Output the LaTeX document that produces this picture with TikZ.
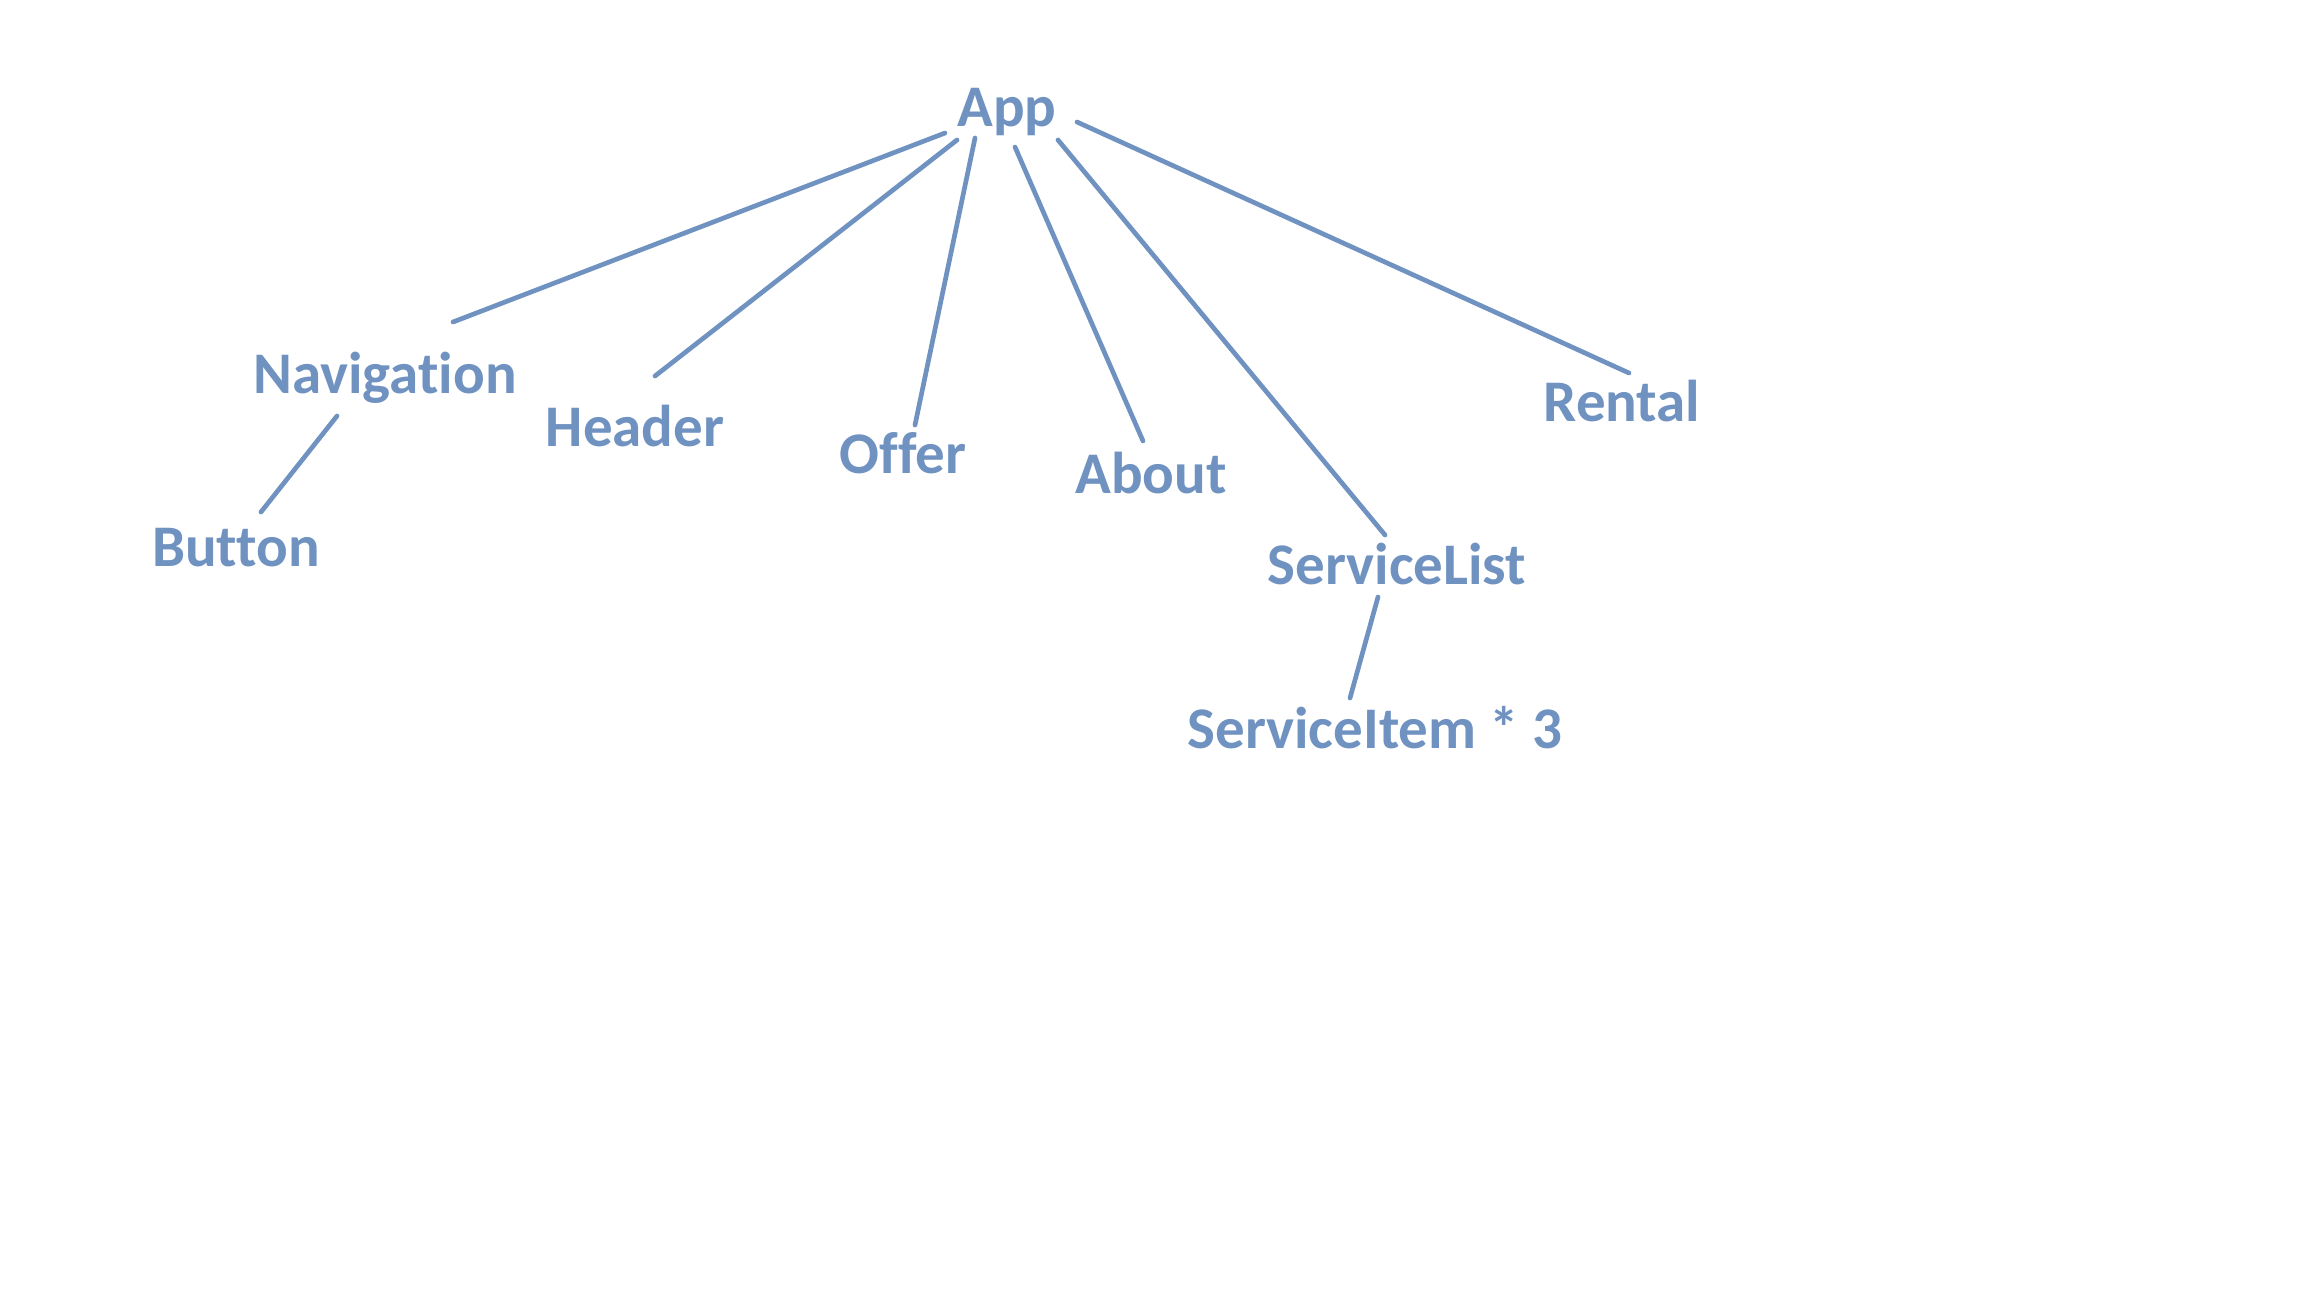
\documentclass[tikz,border=0pt]{standalone}
\usepackage{fontspec}
\setmainfont[Ligatures={NoCommon}]{Carlito}
\definecolor{lbl}{RGB}{111,146,193}
\tikzset{
  lab/.style={anchor=base, inner sep=0pt, text=lbl, font=\fontsize{59}{70}\selectfont\bfseries},
  edge/.style={draw=lbl, line width=4.7pt, line cap=round}
}
\begin{document}
\begin{tikzpicture}[x=1pt,y=-1pt]
\useasboundingbox (0,0) rectangle (2304,1296);
% nodes
\node[lab] (app) at (1007,126) {App};
\node[lab] (nav) at (385,393) {Navigation};
\node[lab] (hdr) at (635,446) {Header};
\node[lab] (off) at (903,473) {Offer};
\node[lab] (abt) at (1151,493) {About};
\node[lab] (sl)  at (1397,584) {ServiceList};
\node[lab] (si)  at (1375,748) {ServiceItem * 3};
\node[lab] (ren) at (1622,421) {Rental};
\node[lab] (btn) at (236,566) {Button};
% connector end points
\coordinate (a-nav) at (945,133);
\coordinate (nav-t) at (453,322);
\coordinate (a-hdr) at (957,140);
\coordinate (hdr-t) at (655,376);
\coordinate (a-off) at (975,138);
\coordinate (off-t) at (915,425);
\coordinate (a-abt) at (1015,147);
\coordinate (abt-t) at (1143,441);
\coordinate (a-sl) at (1058,140);
\coordinate (sl-t) at (1385,535);
\coordinate (a-ren) at (1077,122);
\coordinate (ren-t) at (1629,373);
\coordinate (nav-b) at (337,416);
\coordinate (btn-t) at (261,512);
\coordinate (sl-b) at (1378,597);
\coordinate (si-t) at (1350,698);
% connectors
\draw[edge] (a-nav) -- (nav-t);
\draw[edge] (a-hdr) -- (hdr-t);
\draw[edge] (a-off) -- (off-t);
\draw[edge] (a-abt) -- (abt-t);
\draw[edge] (a-sl) -- (sl-t);
\draw[edge] (a-ren) -- (ren-t);
\draw[edge] (nav-b) -- (btn-t);
\draw[edge] (sl-b) -- (si-t);
\end{tikzpicture}
\end{document}
